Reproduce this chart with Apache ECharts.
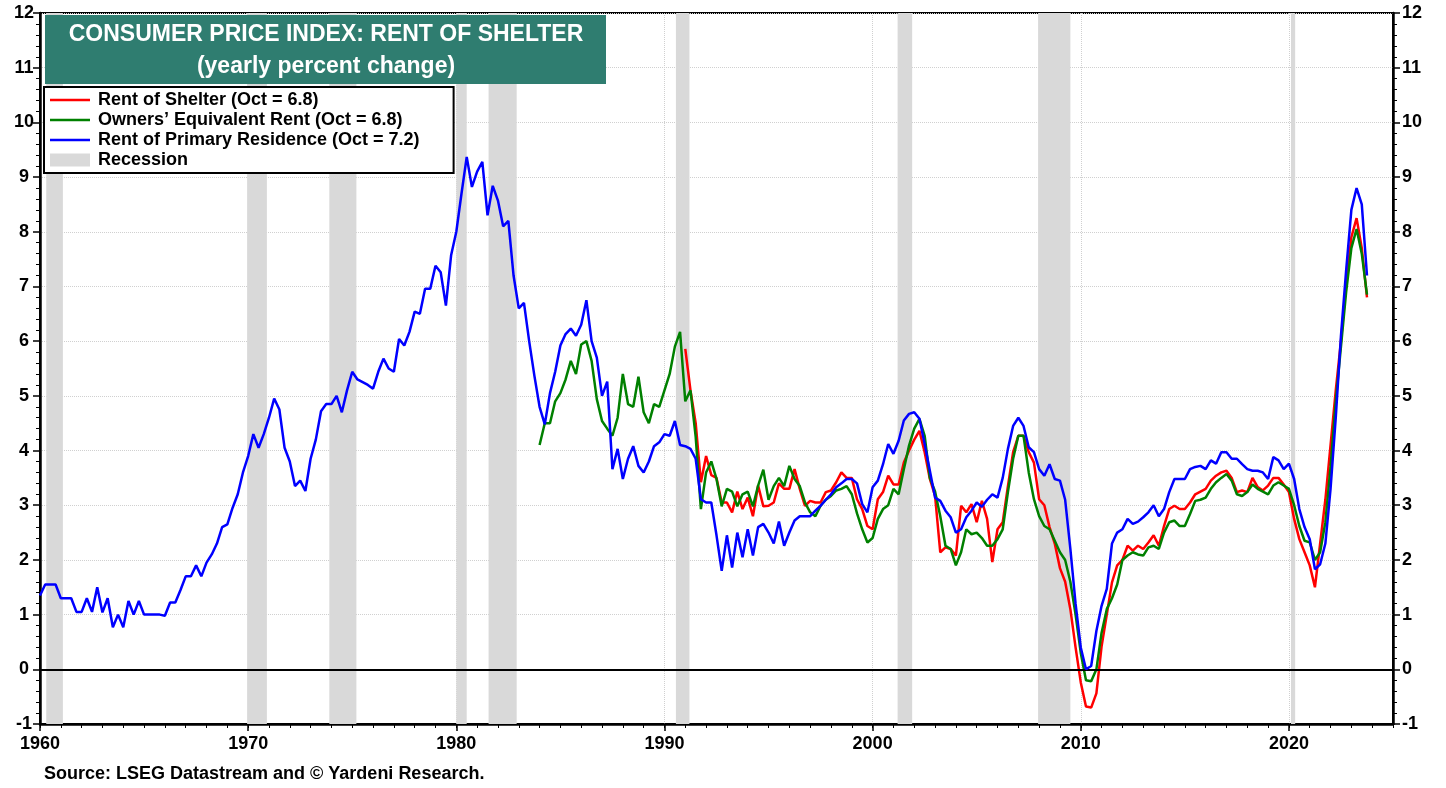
<!DOCTYPE html>
<html>
<head>
<meta charset="utf-8">
<title>CPI Rent of Shelter</title>
<script src="https://cdn.jsdelivr.net/npm/echarts@6/dist/echarts.min.js"></script>
<style>
  html, body { margin: 0; padding: 0; background: #fff; }
  #chart { width: 1446px; height: 788px; }
</style>
</head>
<body>
<div id="chart"></div>
<script>
// quarterly readings (Jan, Apr, Jul, Oct) of yearly percent change
var primaryStart = 1960;
var primaryResidence = [
  1.35, 1.55, 1.55, 1.55,   1.3, 1.3, 1.3, 1.05,   1.05, 1.3, 1.05, 1.5,   1.04, 1.3, 0.77, 1.0,
  0.77, 1.25, 1.0, 1.25,   1.0, 1.0, 1.0, 1.0,   0.98, 1.22, 1.22, 1.45,   1.7, 1.7, 1.9, 1.7,
  1.95, 2.1, 2.3, 2.6,   2.65, 2.95, 3.2, 3.6,   3.9, 4.3, 4.05, 4.3,   4.6, 4.95, 4.75, 4.05,
  3.8, 3.35, 3.45, 3.26,   3.85, 4.2, 4.72, 4.85,   4.85, 5.0, 4.7, 5.1,   5.44, 5.3, 5.25, 5.2,
  5.13, 5.44, 5.68, 5.5,   5.44, 6.04, 5.92, 6.17,   6.54, 6.5, 6.96, 6.96,   7.38, 7.26, 6.65, 7.57,
  8.0, 8.7, 9.37, 8.82,   9.1, 9.28, 8.3, 8.84,   8.57, 8.1, 8.2, 7.2,   6.6, 6.7, 6.0, 5.37,
  4.8, 4.48, 5.05, 5.44,   5.92, 6.13, 6.23, 6.1,   6.3, 6.75, 6.0, 5.7,   5.0, 5.26, 3.66, 4.03,
  3.48, 3.85, 4.08, 3.72,   3.6, 3.8, 4.08, 4.15,   4.3, 4.27, 4.54, 4.1,   4.08, 4.03, 3.85, 3.11,
  3.05, 3.05, 2.45, 1.8,   2.45, 1.86, 2.5, 2.05,   2.56, 2.08, 2.6, 2.66,   2.5, 2.3, 2.7, 2.26,
  2.5, 2.72, 2.8, 2.8,   2.8, 2.9, 2.99, 3.1,   3.2, 3.33, 3.4, 3.48,   3.48, 3.4, 3.02, 2.87,
  3.33, 3.45, 3.75, 4.12,   3.94, 4.18, 4.55, 4.67,   4.7, 4.58, 4.12, 3.63,   3.14, 3.08, 2.9, 2.78,
  2.5, 2.56, 2.78, 2.9,   3.05, 2.97, 3.1, 3.2,   3.14, 3.5, 4.03, 4.45,   4.6, 4.45, 4.06, 3.97,
  3.66, 3.54, 3.75, 3.48,   3.45, 3.1, 2.2, 1.2,   0.4, 0.0, 0.06, 0.7,   1.16, 1.47, 2.3, 2.5,
  2.56, 2.75, 2.66, 2.7,   2.78, 2.87, 3.0, 2.8,   2.93, 3.24, 3.48, 3.48,   3.48, 3.66, 3.7, 3.72,
  3.66, 3.82, 3.76, 3.97,   3.97, 3.85, 3.85, 3.75,   3.66, 3.63, 3.63, 3.6,   3.48, 3.88, 3.82, 3.66,
  3.76, 3.48, 2.93, 2.6,   2.38, 1.83, 1.92, 2.3,   3.3, 4.6, 6.1, 7.3,   8.4, 8.8, 8.5, 7.2
];

var ownersStart = 1984;
var ownersEquivalent = [
  4.1, 4.5, 4.5, 4.9,   5.05, 5.3, 5.64, 5.4,   5.94, 6.0, 5.64, 4.94,   4.54, 4.4, 4.27, 4.6,
  5.4, 4.85, 4.8, 5.35,   4.7, 4.5, 4.85, 4.8,   5.1, 5.4, 5.9, 6.17,   4.9, 5.1, 4.25, 2.93,
  3.6, 3.8, 3.48, 2.98,   3.3, 3.25, 2.98, 3.2,   3.25, 2.98, 3.36, 3.65,   3.1, 3.35, 3.5, 3.35,
  3.72, 3.48, 3.35, 3.05,   2.87, 2.8, 2.99, 3.1,   3.17, 3.27, 3.3, 3.35,   3.2, 2.85, 2.56, 2.32,
  2.4, 2.75, 2.93, 3.0,   3.3, 3.2, 3.66, 4.09,   4.4, 4.58, 4.27, 3.5,   3.25, 2.8, 2.26, 2.2,
  1.9, 2.14, 2.56, 2.47,   2.5, 2.4, 2.26, 2.26,   2.38, 2.56, 3.24, 3.85,   4.27, 4.27, 3.6, 3.11,
  2.8, 2.62, 2.56, 2.35,   2.14, 2.0, 1.6, 1.0,   0.3, -0.2, -0.22, 0.0,   0.67, 1.1, 1.3, 1.55,
  2.0, 2.08, 2.14, 2.1,   2.08, 2.23, 2.26, 2.2,   2.5, 2.69, 2.72, 2.62,   2.62, 2.84, 3.08, 3.1,
  3.14, 3.3, 3.42, 3.5,   3.57, 3.45, 3.2, 3.17,   3.24, 3.38, 3.3, 3.25,   3.2, 3.36, 3.42, 3.36,
  3.3, 3.0, 2.62, 2.35,   2.32, 2.0, 2.14, 2.69,   3.7, 4.9, 5.9, 6.9,   7.7, 8.05, 7.6, 6.85
];

var shelterStart = 1991;
var rentOfShelter = [
  5.86, 5.1, 4.5, 3.42,   3.9, 3.55, 3.5, 3.05,   3.05, 2.87, 3.25, 2.93,   3.14, 2.8, 3.36, 2.98,
  2.99, 3.05, 3.4, 3.3,   3.3, 3.66, 3.3, 2.99,   3.08, 3.05, 3.05, 3.24,   3.27, 3.42, 3.6, 3.5,
  3.5, 3.11, 2.93, 2.62,   2.56, 3.11, 3.24, 3.54,   3.38, 3.38, 3.78, 4.0,   4.2, 4.36, 3.97, 3.48,
  3.17, 2.14, 2.23, 2.2,   2.08, 2.99, 2.87, 3.02,   2.69, 3.08, 2.75, 1.96,   2.56, 2.69, 3.35, 3.97,
  4.27, 4.27, 3.97, 3.78,   3.11, 3.0, 2.6, 2.3,   1.85, 1.6, 1.1, 0.4,   -0.24, -0.68, -0.7, -0.44,
  0.42, 1.0, 1.59, 1.9,   2.0, 2.26, 2.17, 2.26,   2.2, 2.32, 2.45, 2.26,   2.62, 2.93, 2.99, 2.93,
  2.93, 3.05, 3.2, 3.25,   3.3, 3.45, 3.54, 3.6,   3.63, 3.5, 3.24, 3.27,   3.24, 3.5, 3.33, 3.27,
  3.36, 3.5, 3.5, 3.38,   3.24, 2.75, 2.38, 2.14,   1.9, 1.5, 2.3, 3.1,   4.1, 5.1, 6.0, 7.05,
  7.9, 8.25, 7.7, 6.8
];

// recession periods (decimal years)
var recessions = [
  [1960.3, 1961.1], [1969.95, 1970.9], [1973.9, 1975.2], [1980.0, 1980.5],
  [1981.55, 1982.9], [1990.55, 1991.2], [2001.2, 2001.9], [2007.95, 2009.5],
  [2020.1, 2020.3]
];

var seriesNames = [
  "Rent of Shelter (Oct = 6.8)",
  "Owners\u2019 Equivalent Rent (Oct = 6.8)",
  "Rent of Primary Residence (Oct = 7.2)",
  "Recession"
];

function toPairs(start, vals) {
  return vals.map(function (v, i) {
    return [start + i * 0.25, v];
  });
}

var font = "'Liberation Sans', Arial, sans-serif";
var lineIcon = "path://M0,0H40V2.5H0Z";
var chart = echarts.init(document.getElementById("chart"));

var yAxisBase = {
  type: "value",
  min: -1,
  max: 12,
  interval: 1,
  axisLine: { show: true, lineStyle: { color: "#000", width: 2.5 } },
  axisTick: { show: true, length: 7, lineStyle: { color: "#000", width: 1.5 } },
  minorTick: { show: true, splitNumber: 5, length: 4, lineStyle: { color: "#000", width: 1 } },
  axisLabel: { color: "#000", fontSize: 18, fontWeight: "bold", fontFamily: font }
};

chart.setOption({
  animation: false,
  backgroundColor: "#fff",
  grid: {
    left: 40, right: 53, top: 13, bottom: 64,
    show: true, borderColor: "#000", borderWidth: 2
  },
  legend: {
    orient: "vertical",
    left: 44,
    top: 87,
    itemWidth: 40,
    itemHeight: 13,
    itemGap: 2,
    padding: [4, 34, 4, 6],
    backgroundColor: "#fff",
    borderColor: "#000",
    borderWidth: 2,
    textStyle: { color: "#000", fontSize: 18, fontWeight: "bold", fontFamily: font, padding: [0, 0, 0, 3] },
    data: [
      { name: seriesNames[0], icon: lineIcon },
      { name: seriesNames[1], icon: lineIcon },
      { name: seriesNames[2], icon: lineIcon },
      { name: seriesNames[3], icon: "rect", itemStyle: { color: "#d9d9d9" } }
    ]
  },
  xAxis: [
    {
      type: "value",
      min: 1960,
      max: 2025,
      interval: 10,
      axisLine: { show: true, onZero: false, lineStyle: { color: "#000", width: 2.5 } },
      axisTick: { show: true, length: 7, lineStyle: { color: "#000", width: 1.5 } },
      axisLabel: {
        color: "#000", fontSize: 18, fontWeight: "bold", fontFamily: font, margin: 11,
        showMaxLabel: false,
        formatter: function (v) { return v % 10 === 0 ? String(v) : ""; }
      },
      splitLine: { show: true, lineStyle: { color: "#d0d0d0", type: "dotted", width: 1 } }
    },
    {
      // yearly minor ticks
      type: "value",
      min: 1960,
      max: 2025,
      interval: 1,
      position: "bottom",
      axisLine: { show: false, onZero: false },
      axisTick: { show: true, length: 4, lineStyle: { color: "#000", width: 1 } },
      axisLabel: { show: false },
      splitLine: { show: false }
    }
  ],
  yAxis: [
    Object.assign({}, yAxisBase, {
      position: "left",
      axisLabel: Object.assign({}, yAxisBase.axisLabel, { align: "center", margin: 16 }),
      splitLine: { show: true, lineStyle: { color: "#d0d0d0", type: "dotted", width: 1 } }
    }),
    Object.assign({}, yAxisBase, {
      position: "right",
      axisLabel: Object.assign({}, yAxisBase.axisLabel, { margin: 9 }),
      splitLine: { show: false }
    })
  ],
  graphic: [
    {
      type: "rect",
      left: 45, top: 15,
      shape: { width: 561, height: 69 },
      style: { fill: "#2f7d70" },
      z: 100
    },
    {
      type: "text",
      x: 326, y: 35,
      style: {
        text: "CONSUMER PRICE INDEX: RENT OF SHELTER",
        fill: "#fff", font: "bold 23px " + font,
        textAlign: "center", textVerticalAlign: "middle"
      },
      z: 101
    },
    {
      type: "text",
      x: 326, y: 67,
      style: {
        text: "(yearly percent change)",
        fill: "#fff", font: "bold 23px " + font,
        textAlign: "center", textVerticalAlign: "middle"
      },
      z: 101
    },
    {
      type: "text",
      x: 44, y: 774,
      style: {
        text: "Source: LSEG Datastream and \u00a9 Yardeni Research.",
        fill: "#000", font: "bold 18px " + font,
        textVerticalAlign: "middle"
      }
    }
  ],
  series: [
    {
      name: seriesNames[3],
      type: "line",
      data: [],
      z: 1,
      itemStyle: { color: "#d9d9d9" },
      lineStyle: { color: "#d9d9d9" },
      markArea: {
        silent: true,
        itemStyle: { color: "#d9d9d9" },
        data: recessions.map(function (r) { return [{ xAxis: r[0] }, { xAxis: r[1] }]; })
      },
      markLine: {
        silent: true,
        symbol: "none",
        label: { show: false },
        lineStyle: { color: "#000", width: 2, type: "solid" },
        data: [{ yAxis: 0 }]
      }
    },
    {
      name: seriesNames[0],
      type: "line",
      data: toPairs(shelterStart, rentOfShelter),
      showSymbol: false,
      symbol: "none",
      z: 3,
      itemStyle: { color: "#ff0000" },
      lineStyle: { color: "#ff0000", width: 2.5 }
    },
    {
      name: seriesNames[1],
      type: "line",
      data: toPairs(ownersStart, ownersEquivalent),
      showSymbol: false,
      symbol: "none",
      z: 4,
      itemStyle: { color: "#008000" },
      lineStyle: { color: "#008000", width: 2.5 }
    },
    {
      name: seriesNames[2],
      type: "line",
      data: toPairs(primaryStart, primaryResidence),
      showSymbol: false,
      symbol: "none",
      z: 5,
      itemStyle: { color: "#0000ff" },
      lineStyle: { color: "#0000ff", width: 2.5 }
    }
  ]
});
</script>
</body>
</html>
